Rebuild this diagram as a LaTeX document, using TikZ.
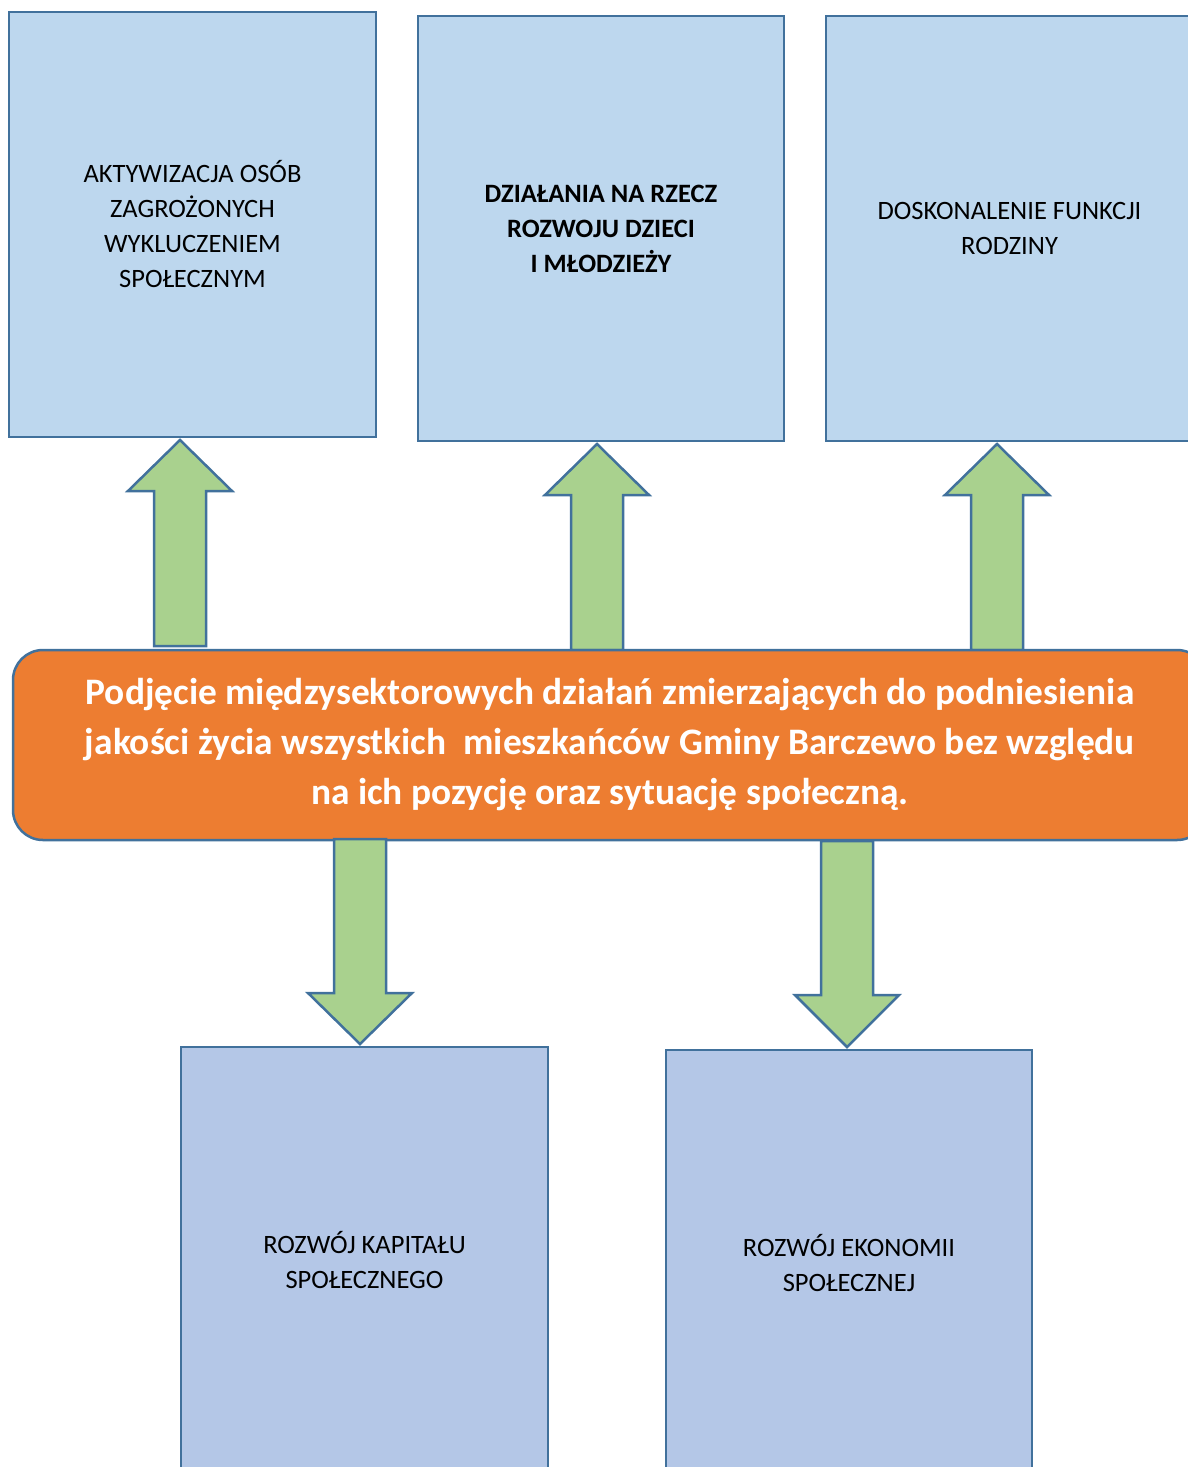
\documentclass[tikz,border=0pt]{standalone}
\usepackage{fontspec}
\setmainfont{Carlito}
\begin{document}
\begin{tikzpicture}[x=1pt,y=-1pt,
  stroke/.style={draw=strokeblue,line width=2.5pt},
  topbox/.style={stroke,fill=topblue,rectangle,inner sep=0pt,align=center,
     font=\fontsize{26.5}{35}\selectfont,text=black},
  botbox/.style={topbox,fill=botblue},
  blockarrow/.style={stroke,fill=arrowgreen,line join=miter},
  mainbox/.style={stroke,fill=mainorange,rounded corners=30pt,inner sep=0pt,align=center,
     text=white,font=\fontsize{37.4}{50}\selectfont\bfseries}]
\definecolor{strokeblue}{HTML}{41719C}
\definecolor{topblue}{HTML}{BDD7EE}
\definecolor{botblue}{HTML}{B4C7E7}
\definecolor{arrowgreen}{HTML}{A9D18E}
\definecolor{mainorange}{HTML}{ED7D31}
\useasboundingbox (0,0) rectangle (1187,1467);

% up arrows
\draw[blockarrow] (180,440) coordinate (t1) -- ++(52,51) -- ++(-26,0) -- ++(0,155) coordinate (b1) -- ++(-52,0) -- ++(0,-155) -- ++(-26,0) -- cycle;
\draw[blockarrow] (597,444) coordinate (t2) -- ++(52,51) -- ++(-26,0) -- ++(0,155) coordinate (b2) -- ++(-52,0) -- ++(0,-155) -- ++(-26,0) -- cycle;
\draw[blockarrow] (997,444) coordinate (t3) -- ++(52,51) -- ++(-26,0) -- ++(0,155) coordinate (b3) -- ++(-52,0) -- ++(0,-155) -- ++(-26,0) -- cycle;

\node[mainbox,minimum width=1194pt,minimum height=190pt] (main) at (610,745)
  {Podjęcie międzysektorowych działań zmierzających do podniesienia\\
   jakości życia wszystkich~ mieszkańców Gminy Barczewo bez względu\\
   na ich pozycję oraz sytuację społeczną.};

% down arrows
\draw[blockarrow] (334,839) coordinate (d1) -- ++(52,0) -- ++(0,154) -- ++(26,0) -- ++(-52,51) coordinate (e1) -- ++(-52,-51) -- ++(26,0) -- cycle;
\draw[blockarrow] (821,841) coordinate (d2) -- ++(52,0) -- ++(0,154) -- ++(26,0) -- ++(-52,52) coordinate (e2) -- ++(-52,-52) -- ++(26,0) -- cycle;

\node[topbox,minimum width=367pt,minimum height=425pt] (box1) at (192.5,224.5)
  {AKTYWIZACJA OSÓB\\ ZAGROŻONYCH\\ WYKLUCZENIEM\\ SPOŁECZNYM};
\node[topbox,minimum width=366pt,minimum height=425pt] (box2) at (601,228.5)
  {\bfseries DZIAŁANIA NA RZECZ\\ \bfseries ROZWOJU DZIECI\\ \bfseries I MŁODZIEŻY};
\node[topbox,minimum width=367pt,minimum height=425pt] (box3) at (1009.5,228.5)
  {DOSKONALENIE FUNKCJI\\ RODZINY};
\node[botbox,minimum width=367pt,minimum height=426pt] (box4) at (364.5,1260)
  {ROZWÓJ KAPITAŁU\\ SPOŁECZNEGO};
\node[botbox,minimum width=366pt,minimum height=427pt] (box5) at (849,1263.5)
  {ROZWÓJ EKONOMII\\ SPOŁECZNEJ};
\end{tikzpicture}
\end{document}
